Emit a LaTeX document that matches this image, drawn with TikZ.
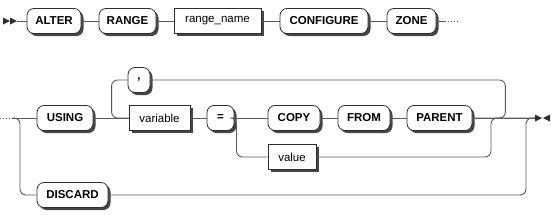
\documentclass[tikz,border=0pt]{standalone}
\usepackage{fontspec}
\setmainfont{Liberation Sans}
\usetikzlibrary{shadows,calc}
\definecolor{railCol}{RGB}{90,90,90}
\definecolor{boxCol}{RGB}{45,45,45}
\definecolor{shadeCol}{RGB}{70,70,70}
\tikzset{
  term/.style={draw=boxCol,fill=white,line width=0.8pt,minimum height=25pt,inner sep=0pt,
               font=\fontsize{11.5}{13}\selectfont,
               drop shadow={shadow xshift=2.5pt,shadow yshift=-2.5pt,fill=shadeCol,opacity=1}},
  kw/.style={term,rounded corners=7pt,font=\fontsize{11.5}{13}\selectfont\bfseries},
  ident/.style={term},
  rail/.style={draw=railCol,line width=0.9pt,rounded corners=6pt},
  dots/.style={draw=railCol,line width=0.9pt,dotted}
}

\begin{document}
\begin{tikzpicture}[x=1pt,y=-1pt]
  \useasboundingbox (0,0) rectangle (560,220);
  % first line
  \node[kw,minimum width=54pt] (alter) at (54,21) {ALTER};
  \node[kw,minimum width=57pt] (range) at (127.5,21) {RANGE};
  \node[ident,minimum width=87pt] (rname) at (217.5,21) {range\_name};
  \node[kw,minimum width=88pt] (config) at (324,21) {CONFIGURE};
  \node[kw,minimum width=49pt] (zone) at (411.5,21) {ZONE};
  \coordinate (go) at (17,21);
  \coordinate (cut) at (445,21);
  \coordinate (cutend) at (457,21);
  \fill[boxCol] (3,17.5) -- (10,21) -- (3,24.5) -- cycle;
  \fill[boxCol] (10,17.5) -- (17,21) -- (10,24.5) -- cycle;
  \foreach \a/\b in {go/alter,alter/range,range/rname,rname/config,config/zone}
    \draw[rail] (\a) -- (\b);
  \draw[rail] (zone) -- (cut);
  \draw[dots] (cut) -- (cutend);
  % second line
  \node[kw,minimum width=56pt] (using) at (65,118) {USING};
  \node[kw,minimum width=22pt] (comma) at (139,80) {,};
  \node[ident,minimum width=61pt] (var) at (159.5,118) {variable};
  \node[kw,minimum width=27pt] (eq) at (220.5,118) {=};
  \node[kw,minimum width=52pt] (copy) at (294,118) {COPY};
  \node[kw,minimum width=52pt] (from) at (364,118) {FROM};
  \node[kw,minimum width=65pt] (parent) at (439.5,118) {PARENT};
  \node[ident,minimum width=48pt] (value) at (292,157) {value};
  \node[kw,minimum width=71pt] (discard) at (72.5,195) {DISCARD};
  \coordinate (cont) at (0,118);
  \coordinate (contend) at (12,118);
  \coordinate (stop) at (535,118);
  \fill[boxCol] (535,114.5) -- (542,118) -- (535,121.5) -- cycle;
  \fill[boxCol] (550,114.5) -- (543,118) -- (550,121.5) -- cycle;
  \draw[dots] (cont) -- (contend);
  \draw[rail] (contend) -- (using);
  \draw[rail] (contend) -- ++(8,0) |- (discard);
  \draw[rail] (using) -- (var);
  \draw[rail] (comma) -| ($(var.west)+(-17,0)$) -- (var);
  \draw[rail] (comma) -| ($(parent.east)+(33,0)$) -- (parent);
  \foreach \a/\b in {var/eq,eq/copy,copy/from,from/parent,parent/stop}
    \draw[rail] (\a) -- (\b);
  \draw[rail] (eq) -- ++(16,0) |- (value);
  \draw[rail] (value) -| ($(stop)+(-44,0)$) -- (stop);
  \draw[rail] (discard) -| ($(stop)+(-9,0)$) -- (stop);
\end{tikzpicture}
\end{document}
